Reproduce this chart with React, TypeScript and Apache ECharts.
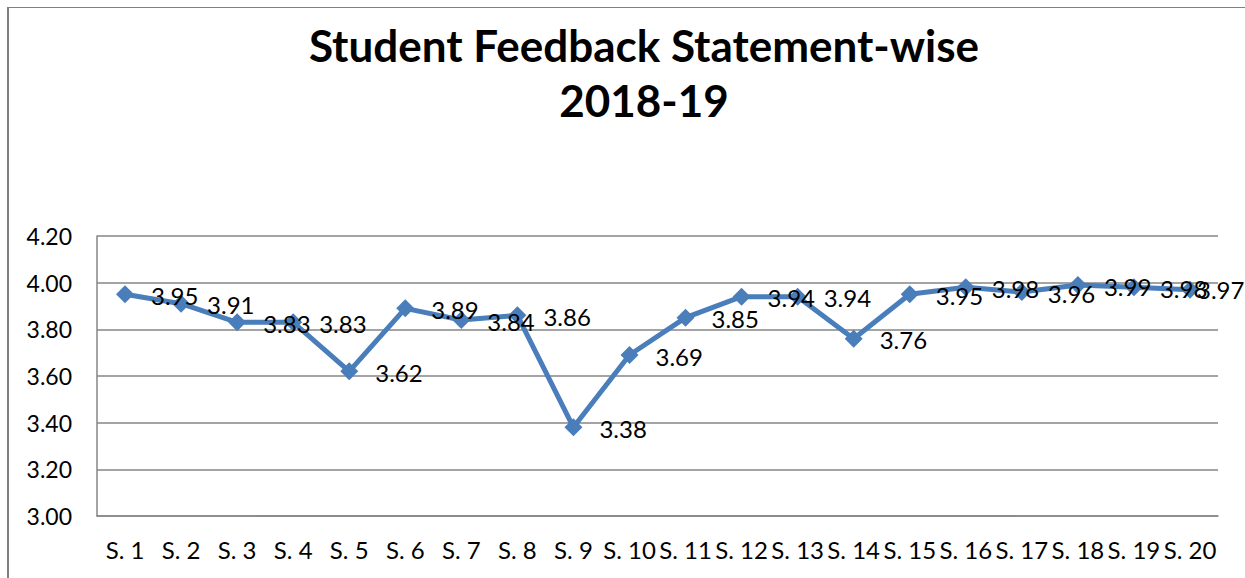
import React, { useEffect, useRef } from "react";
import * as echarts from "echarts";

const categories = ["S. 1", "S. 2", "S. 3", "S. 4", "S. 5", "S. 6", "S. 7", "S. 8", "S. 9", "S. 10",
  "S. 11", "S. 12", "S. 13", "S. 14", "S. 15", "S. 16", "S. 17", "S. 18", "S. 19", "S. 20"];
const scores = [3.95, 3.91, 3.83, 3.83, 3.62, 3.89, 3.84, 3.86, 3.38, 3.69,
  3.85, 3.94, 3.94, 3.76, 3.95, 3.98, 3.96, 3.99, 3.98, 3.97];
const yMin = 3.0;
const yMax = 4.2;
const yStep = 0.2;
const titleText = "Student Feedback Statement-wise\n2018-19";

const FONT = "Lato";

export default function App() {
  const ref = useRef<HTMLDivElement>(null);
  useEffect(() => {
    if (!ref.current) return;
    const chart = echarts.init(ref.current, undefined, { renderer: "svg" });
    const lastIdx = scores.length - 1;
    const seriesData = scores.map((v, i) =>
      i === lastIdx ? { value: v, label: { distance: 0, offset: [-2, 0] } } : v
    );
    chart.setOption({
      animation: false,
      backgroundColor: "#ffffff",
      title: {
        text: titleText,
        left: 639,
        textAlign: "center",
        top: 12,
        textStyle: {
          fontFamily: FONT,
          fontWeight: "bold",
          fontSize: 44,
          lineHeight: 55,
          color: "#000000",
        },
      },
      graphic: [
        { type: "rect", shape: { x: 7, y: 7, width: 2, height: 600 }, style: { fill: "#808080" }, silent: true },
        { type: "rect", shape: { x: 7, y: 7, width: 1300, height: 1 }, style: { fill: "#808080" }, silent: true },
      ],
      grid: { left: 97, right: 27, top: 236, bottom: 62, containLabel: false },
      xAxis: {
        type: "category",
        data: categories,
        boundaryGap: true,
        axisLine: { show: true, lineStyle: { color: "#868686", width: 1.5 } },
        axisTick: { show: false },
        axisLabel: {
          interval: 0,
          margin: 21,
          fontFamily: FONT,
          fontSize: 24,
          color: "#000000",
        },
        splitLine: { show: false },
      },
      yAxis: {
        type: "value",
        min: yMin,
        max: yMax,
        interval: yStep,
        axisLine: { show: true, lineStyle: { color: "#868686", width: 1.5 } },
        axisTick: { show: false },
        axisLabel: {
          margin: 25,
          fontFamily: FONT,
          fontSize: 23,
          color: "#000000",
          formatter: (v: number) => v.toFixed(2),
        },
        splitLine: { show: true, lineStyle: { color: "#868686", width: 1.5 } },
      },
      series: [
        {
          type: "line",
          data: seriesData,
          symbol: "diamond",
          symbolSize: 18,
          lineStyle: { color: "#4A7EBB", width: 5 },
          itemStyle: { color: "#4A7EBB" },
          label: {
            show: true,
            position: "right",
            distance: 17,
            offset: [0, 1],
            fontFamily: FONT,
            fontSize: 24,
            color: "#000000",
            formatter: (p: any) => Number(p.value).toFixed(2),
          },
        },
      ],
    });
    return () => chart.dispose();
  }, []);
  return (
    <div
      ref={ref}
      style={{ position: "fixed", left: 0, top: 0, width: 1245, height: 578 }}
    />
  );
}
